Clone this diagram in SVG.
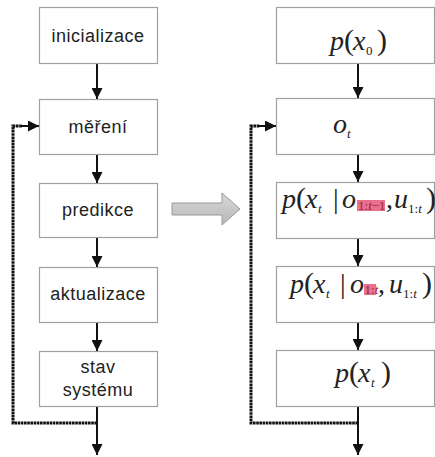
<svg xmlns="http://www.w3.org/2000/svg" width="435" height="457" viewBox="0 0 435 457">
<defs>
<style>
.box{fill:#ffffff;stroke:#a0a0a0;stroke-width:1.2}
.lbl{font-family:"Liberation Sans",Arial,sans-serif;font-size:18px;fill:#222;text-anchor:middle;letter-spacing:0.5px}
.m{font-family:"Liberation Serif","Times New Roman",serif;font-size:28px;font-style:italic;fill:#222}
.par{font-style:normal;font-size:30px}
.sub{font-size:13px}
.pk{fill:#e8708a}
.ln{stroke:#111;stroke-width:2;fill:none}
.fb{stroke:#111;stroke-width:3;fill:none;stroke-dasharray:2.6 0.6}
</style>
<marker id="ah" viewBox="0 0 10 10" refX="10" refY="5" markerWidth="7.5" markerHeight="5.5" markerUnits="strokeWidth" orient="auto">
<path d="M0,0 L10,5 L0,10 Z" fill="#111"/>
</marker>
<marker id="ah2" viewBox="0 0 10 10" refX="10" refY="5" markerWidth="7" markerHeight="5.5" markerUnits="strokeWidth" orient="auto">
<path d="M0,0 L10,5 L0,10 Z" fill="#111"/>
</marker>
<linearGradient id="ga" x1="0" y1="0" x2="0" y2="1">
<stop offset="0" stop-color="#d8d8d8"/>
<stop offset="1" stop-color="#b8b8b8"/>
</linearGradient>
</defs>
<g id="connectors">
<line class="ln" x1="97" y1="64" x2="97" y2="99" marker-end="url(#ah)"/>
<line class="ln" x1="97" y1="154" x2="97" y2="183" marker-end="url(#ah)"/>
<line class="ln" x1="97" y1="237" x2="97" y2="267" marker-end="url(#ah)"/>
<line class="ln" x1="97" y1="323" x2="97" y2="351" marker-end="url(#ah)"/>
<line class="ln" x1="97" y1="407" x2="97" y2="455" marker-end="url(#ah)"/>
<polyline class="fb" points="97,423 13,423 13,126 22,126"/>
<line class="ln" x1="20" y1="126" x2="39" y2="126" marker-end="url(#ah2)"/>
<line class="ln" x1="358" y1="63" x2="358" y2="98" marker-end="url(#ah)"/>
<line class="ln" x1="358" y1="154" x2="358" y2="182" marker-end="url(#ah)"/>
<line class="ln" x1="358" y1="238" x2="358" y2="266" marker-end="url(#ah)"/>
<line class="ln" x1="358" y1="322" x2="358" y2="350" marker-end="url(#ah)"/>
<line class="ln" x1="358" y1="406" x2="358" y2="455" marker-end="url(#ah)"/>
<polyline class="fb" points="358,423 251,423 251,126 260,126"/>
<line class="ln" x1="258" y1="126" x2="276" y2="126" marker-end="url(#ah2)"/>
<path id="bigarrow" d="M172,203 L222,203 L222,193 L240,209 L222,225 L222,215 L172,215 Z" fill="url(#ga)" stroke="#999" stroke-width="1"/>
</g>
<g id="n-inicializace"><rect class="box" x="39.5" y="7.5" width="118" height="56"/><text class="lbl" x="98" y="42">inicializace</text></g>
<g id="n-mereni"><rect class="box" x="39.5" y="99.5" width="118" height="55"/><text class="lbl" x="98" y="133">měření</text></g>
<g id="n-predikce"><rect class="box" x="39.5" y="183.5" width="118" height="54"/><text class="lbl" x="98" y="216">predikce</text></g>
<g id="n-aktualizace"><rect class="box" x="39.5" y="267.5" width="118" height="55"/><text class="lbl" x="98" y="300">aktualizace</text></g>
<g id="n-stav"><rect class="box" x="39.5" y="351.5" width="118" height="55"/><text class="lbl" x="98" y="373">stav</text><text class="lbl" x="98" y="396">systému</text></g>
<g id="n-px0"><rect class="box" x="276.5" y="7.5" width="158" height="56"/>
<text class="m" y="50"><tspan x="330">p</tspan><tspan class="par" x="344">(</tspan><tspan x="353">x</tspan><tspan class="sub" x="366" y="55" font-style="normal">0</tspan><tspan class="par" x="377" y="50">)</tspan></text></g>
<g id="n-ot"><rect class="box" x="276.5" y="98.5" width="158" height="56"/>
<text class="m" y="133"><tspan x="333">o</tspan><tspan class="sub" x="347" y="138">t</tspan></text></g>
<g id="n-pred"><rect class="box" x="276.5" y="182.5" width="158" height="56"/>
<rect class="pk" x="357" y="200" width="28" height="11"/>
<text class="m" y="208"><tspan x="282">p</tspan><tspan class="par" x="296">(</tspan><tspan x="305">x</tspan><tspan class="sub" x="318" y="213">t</tspan><tspan font-style="normal" x="333" y="208">|</tspan><tspan x="342">o</tspan><tspan class="sub" x="358" y="210" fill="#9a2040" font-size="11px" font-style="normal">1:<tspan font-style="italic">t</tspan>−1</tspan><tspan font-style="normal" x="386" y="208">,</tspan><tspan x="394">u</tspan><tspan class="sub" x="408" y="213" font-style="normal">1:<tspan font-style="italic">t</tspan></tspan><tspan class="par" x="426" y="208">)</tspan></text></g>
<g id="n-upd"><rect class="box" x="276.5" y="266.5" width="158" height="56"/>
<rect class="pk" x="364" y="284" width="12" height="11"/>
<text class="m" y="293"><tspan x="290">p</tspan><tspan class="par" x="304">(</tspan><tspan x="313">x</tspan><tspan class="sub" x="326" y="298">t</tspan><tspan font-style="normal" x="340" y="293">|</tspan><tspan x="350">o</tspan><tspan class="sub" x="364.5" y="294" fill="#9a2040" font-size="8px" font-style="normal">1:<tspan font-style="italic">t</tspan></tspan><tspan font-style="normal" x="378" y="293">,</tspan><tspan x="389">u</tspan><tspan class="sub" x="403" y="298" font-style="normal">1:<tspan font-style="italic">t</tspan></tspan><tspan class="par" x="422" y="293">)</tspan></text></g>
<g id="n-pxt"><rect class="box" x="276.5" y="350.5" width="158" height="56"/>
<text class="m" y="382"><tspan x="335">p</tspan><tspan class="par" x="349">(</tspan><tspan x="358">x</tspan><tspan class="sub" x="371" y="387">t</tspan><tspan class="par" x="381" y="382">)</tspan></text></g>
</svg>
